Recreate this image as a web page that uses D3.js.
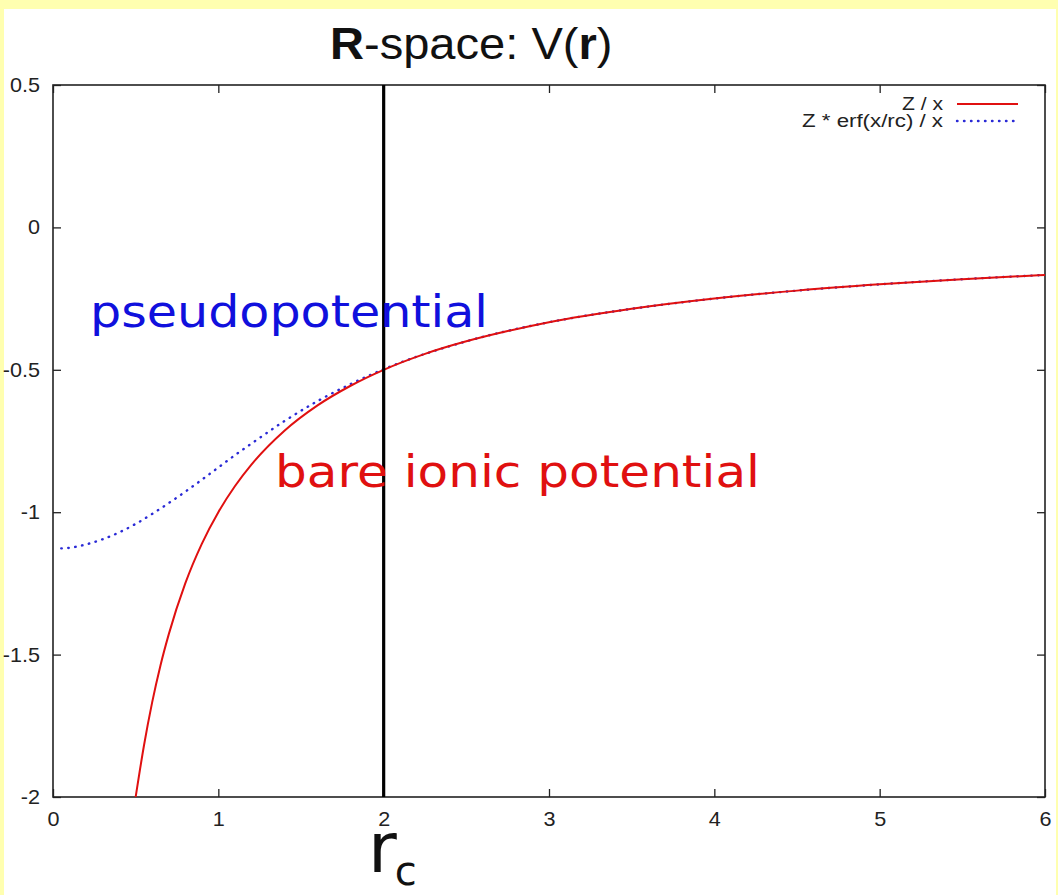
<!DOCTYPE html>
<html><head><meta charset="utf-8">
<script src="https://cdn.jsdelivr.net/npm/d3@7"></script>
<style>html,body{margin:0;padding:0;background:#ffffb0;}svg{display:block;}</style>
</head><body>
<svg id="c" width="1058" height="895"></svg>
<script>
// ---- data ----
const bareX = [0.5,0.55,0.6,0.65,0.7,0.8,0.9,1.0,1.1,1.2,1.4,1.6,1.8,2.0,2.25,2.5,2.75,3,3.5,4,4.5,5,5.5,6];
const bareY = [-2.0,-1.82,-1.667,-1.538,-1.429,-1.25,-1.111,-1.0,-0.909,-0.833,-0.714,-0.625,-0.556,-0.5,-0.444,-0.4,-0.364,-0.333,-0.286,-0.25,-0.222,-0.2,-0.182,-0.167];
const pseudoX = [0.05,0.1,0.2,0.3,0.4,0.5,0.6,0.7,0.8,0.9,1.0,1.1,1.2,1.4,1.6,1.8,2.0,2.5,3,3.5,4,4.5,5,5.5,6];
const pseudoY = [-1.127,-1.125,-1.113,-1.095,-1.071,-1.041,-1.006,-0.968,-0.928,-0.886,-0.843,-0.800,-0.759,-0.680,-0.610,-0.550,-0.498,-0.400,-0.333,-0.286,-0.25,-0.222,-0.2,-0.182,-0.167];
const xTicks = [0,1,2,3,4,5,6];
const yTicks = [0.5,0,-0.5,-1,-1.5,-2];
const yTickLabels = ["0.5","0","-0.5","-1","-1.5","-2"];
const rcValue = 2;
const legendLabels = ["Z / x","Z * erf(x/rc) / x"];
const titleParts = [["R","bold"],["-space: V(","normal"],["r","bold"],[")","normal"]];

const svg = d3.select("#c");
const W = 1058, H = 895;
const m = {left:53, top:85, right:1045, bottom:797};

// background
svg.append("rect").attr("width",W).attr("height",H).attr("fill","#ffffb0");
svg.append("rect").attr("x",4).attr("y",9).attr("width",1052).attr("height",H-9).attr("fill","#ffffff");

const x = d3.scaleLinear().domain([0,6]).range([m.left,m.right]);
const y = d3.scaleLinear().domain([-2,0.5]).range([m.bottom,m.top]);

const stretch = (sel, k) => sel.each(function(){
  const t = d3.select(this);
  const tx = +t.attr("x")||0;
  t.attr("x",0).attr("transform",`translate(${tx},0) scale(${k},1)`);
});

// axes (ticks inward, mirrored)
const axFont = "'Liberation Sans', Arial, sans-serif";
const gx = svg.append("g").attr("transform",`translate(0,${m.bottom})`)
  .call(d3.axisBottom(x).tickValues(xTicks).tickFormat(d3.format("d")).tickSizeInner(-8).tickSizeOuter(0).tickPadding(15));
const gxt = svg.append("g").attr("transform",`translate(0,${m.top})`)
  .call(d3.axisTop(x).tickValues(xTicks).tickFormat("").tickSizeInner(-8).tickSizeOuter(0));
const gy = svg.append("g").attr("transform",`translate(${m.left},0)`)
  .call(d3.axisLeft(y).tickValues(yTicks).tickFormat((d,i)=>yTickLabels[i]).tickSizeInner(-8).tickSizeOuter(0).tickPadding(13));
const gyr = svg.append("g").attr("transform",`translate(${m.right},0)`)
  .call(d3.axisRight(y).tickValues(yTicks).tickFormat("").tickSizeInner(-8).tickSizeOuter(0));
[gx,gxt,gy,gyr].forEach(g=>{
  g.select(".domain").remove();
  g.selectAll("line").attr("stroke","#222").attr("stroke-width",1.3);
  g.selectAll("text").attr("font-family",axFont).attr("font-size",20).attr("fill","#222");
});
gx.selectAll(".tick text").call(stretch,1.08);
gy.selectAll(".tick text").call(stretch,1.08);

// frame
svg.append("rect").attr("x",m.left).attr("y",m.top).attr("width",m.right-m.left).attr("height",m.bottom-m.top)
  .attr("fill","none").attr("stroke","#222").attr("stroke-width",1.6);

// clip
svg.append("clipPath").attr("id","clip").append("rect")
  .attr("x",m.left).attr("y",m.top).attr("width",m.right-m.left).attr("height",m.bottom-m.top);

const line = d3.line().x(d=>x(d[0])).y(d=>y(d[1])).curve(d3.curveMonotoneX);
const plot = svg.append("g").attr("clip-path","url(#clip)");

plot.append("path").datum(pseudoX.map((v,i)=>[v,pseudoY[i]]))
  .attr("d",line).attr("fill","none").attr("stroke","#2a2ad6").attr("stroke-width",2.4)
  .attr("stroke-linecap","round").attr("stroke-dasharray","0.5,6.5");
plot.append("path").datum(bareX.map((v,i)=>[v,bareY[i]]))
  .attr("d",line).attr("fill","none").attr("stroke","#e01010").attr("stroke-width",2);

// rc vertical line
svg.append("line").attr("x1",x(rcValue)).attr("x2",x(rcValue)).attr("y1",y(0.5)).attr("y2",y(-2))
  .attr("stroke","#000").attr("stroke-width",3.2);

// legend
const lg = svg.append("g");
const legWidths = [41,141];
legendLabels.forEach((t,i)=>{
  const yy = 104 + i*17;
  lg.append("text").attr("x",943).attr("y",yy+6).attr("text-anchor","end")
    .attr("font-family",axFont).attr("font-size",18).attr("fill","#222")
    .attr("textLength",legWidths[i]).attr("lengthAdjust","spacingAndGlyphs").text(t);
  lg.append("line").attr("x1",957).attr("x2",1018).attr("y1",yy).attr("y2",yy)
    .attr("stroke", i===0 ? "#e01010" : "#2a2ad6").attr("stroke-width", i===0 ? 2 : 2.4)
    .attr("stroke-linecap", i===0 ? "butt" : "round")
    .attr("stroke-dasharray", i===0 ? null : "0.5,6.5");
});

// title
const title = svg.append("text").attr("transform","translate(330,59) scale(1.07,1)")
  .attr("font-family",axFont).attr("font-size",44).attr("fill","#111");
titleParts.forEach(p=>title.append("tspan").attr("font-weight",p[1]).text(p[0]));

// annotations
const annFont = "'DejaVu Sans', Verdana, sans-serif";
svg.append("text").attr("x",90).attr("y",327).attr("font-family",annFont).attr("font-size",44)
  .attr("fill","#1010dd").attr("textLength",398).attr("lengthAdjust","spacingAndGlyphs").text("pseudopotential");
svg.append("text").attr("x",275).attr("y",487).attr("font-family",annFont).attr("font-size",44)
  .attr("fill","#e01010").attr("textLength",485).attr("lengthAdjust","spacingAndGlyphs").text("bare ionic potential");

// r_c label
const rc = svg.append("text").attr("x",368).attr("y",872).attr("font-family",annFont).attr("fill","#111");
rc.append("tspan").attr("font-size",70).text("r");
rc.append("tspan").attr("font-size",40).attr("dy",13).attr("dx",-2).text("c");
</script>
</body></html>
